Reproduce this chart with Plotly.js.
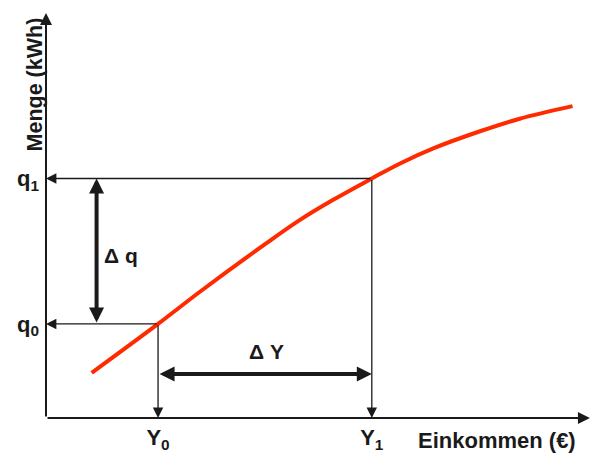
<!DOCTYPE html>
<html>
<head>
<meta charset="utf-8">
<script src="https://cdn.plot.ly/plotly-3.0.1.min.js"></script>
<style>html,body{margin:0;padding:0;background:#fff;}#chart{width:591px;height:453px;}</style>
</head>
<body>
<div id="chart"></div>
<script>
// Income (x) and quantity (y) along the Engel curve
const incomeX   = [0.84, 2.06, 2.83, 4.06, 4.67, 5.28, 5.99, 6.51, 7.12, 7.98, 8.71, 9.68];
const quantityY = [1.08, 2.25, 3.02, 4.19, 4.74, 5.22, 5.73, 6.09, 6.45, 6.86, 7.16, 7.46];
// Marked points
const incomeLevels   = [2.06, 5.99];   // Y0, Y1
const quantityLevels = [2.25, 5.73];   // q0, q1
const incomeLabels   = ['Y<sub>0</sub>', 'Y<sub>1</sub>'];
const quantityLabels = ['q<sub>0</sub>', 'q<sub>1</sub>'];
const axisEnds = {x: 10.0, y: 9.69};
const deltaQx = 0.93;   // position of Δq arrow on income axis
const deltaYy = 1.05;   // position of ΔY arrow on quantity axis

const FONT = 'Liberation Sans, Arial, sans-serif';
const BLACK = '#1a1a1a';

const traces = [{
  x: incomeX, y: quantityY, type: 'scatter', mode: 'lines',
  line: {color: '#ff2a00', width: 4, shape: 'spline', smoothing: 1.0},
  hoverinfo: 'skip'
}];

function arrow(x, y, ax, ay, opts) {
  return Object.assign({
    x: x, y: y, ax: ax, ay: ay, xref: 'x', yref: 'y', axref: 'x', ayref: 'y',
    text: '', showarrow: true, arrowhead: 2, arrowsize: 1.6, arrowwidth: 1.3,
    arrowcolor: BLACK, standoff: 0
  }, opts || {});
}

const [Y0, Y1] = incomeLevels;
const [q0, q1] = quantityLevels;

const annotations = [
  // axes
  arrow(0, axisEnds.y, 0, 0, {arrowwidth: 2, arrowsize: 1.2}),
  arrow(axisEnds.x, 0, 0, 0, {arrowwidth: 2, arrowsize: 1.2}),
  // guides
  arrow(0, q1, Y1, q1),
  arrow(0, q0, Y0, q0),
  arrow(Y1, 0, Y1, q1),
  arrow(Y0, 0, Y0, q0),
  // delta arrows
  arrow(deltaQx, q1, deltaQx, q0, {arrowwidth: 4, arrowsize: 0.75, arrowside: 'end+start', startarrowhead: 2, startarrowsize: 0.75}),
  arrow(Y1, deltaYy, Y0, deltaYy, {arrowwidth: 4, arrowsize: 0.75, arrowside: 'end+start', startarrowhead: 2, startarrowsize: 0.75}),
  // labels
  {x: 1.38, y: 3.88, xref: 'x', yref: 'y', text: '<b>Δ q</b>', showarrow: false,
   font: {family: FONT, size: 21, color: BLACK}},
  {x: 4.06, y: 1.60, xref: 'x', yref: 'y', text: '<b>Δ Y</b>', showarrow: false,
   font: {family: FONT, size: 21, color: BLACK}},
  {x: 8.3, y: 0, xref: 'x', yref: 'paper', yanchor: 'top', yshift: -8,
   text: '<b>Einkommen (€)</b>', showarrow: false,
   font: {family: FONT, size: 22, color: BLACK}},
  {x: 0, y: 7.98, xref: 'paper', yref: 'y', xshift: -25, textangle: -90,
   text: '<b>Menge (kWh)</b>', showarrow: false,
   font: {family: FONT, size: 21.5, color: BLACK}}
];

const layout = {
  width: 591, height: 453,
  margin: {l: 46, r: 0, t: 0, b: 35, pad: 0},
  paper_bgcolor: '#fff', plot_bgcolor: '#fff',
  showlegend: false,
  xaxis: {range: [0, 10.02], showgrid: false, zeroline: false, showline: false,
          tickvals: incomeLevels, ticktext: incomeLabels, ticks: '',
          ticklabelstandoff: 4,
          tickfont: {family: FONT, size: 22, color: BLACK, weight: 'bold'}, fixedrange: true},
  yaxis: {range: [0, 10], showgrid: false, zeroline: false, showline: false,
          tickvals: quantityLevels, ticktext: quantityLabels, ticks: '',
          ticklabelstandoff: 6,
          tickfont: {family: FONT, size: 22, color: BLACK, weight: 'bold'}, fixedrange: true},
  annotations: annotations
};

Plotly.newPlot('chart', traces, layout, {displayModeBar: false, staticPlot: true});
</script>
</body>
</html>
